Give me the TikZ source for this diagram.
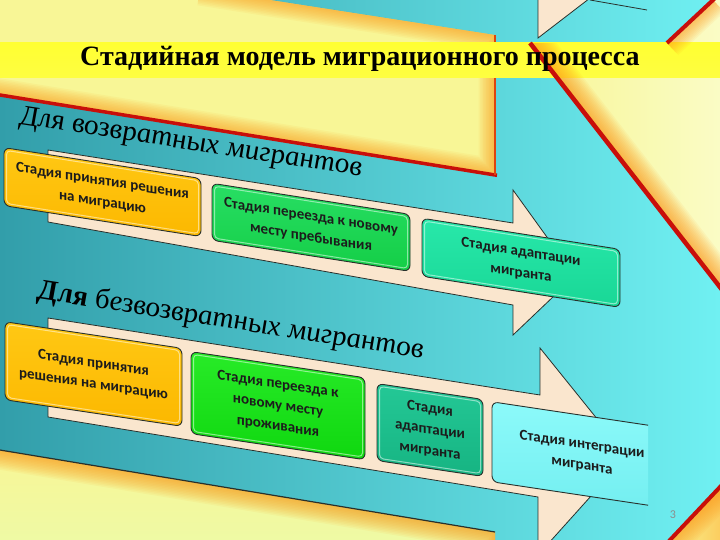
\documentclass[tikz,border=0pt]{standalone}
\usepackage{fontspec}
\setmainfont{Liberation Serif}
\newfontfamily\boxfont{Carlito}
\definecolor{tealL}{RGB}{50,158,170}
\definecolor{tealR}{RGB}{112,240,242}
\definecolor{paleY}{RGB}{248,246,150}
\definecolor{paleG}{RGB}{238,250,165}
\definecolor{paleW}{RGB}{250,252,200}
\definecolor{bandY}{RGB}{255,255,50}
\definecolor{glowO}{RGB}{255,150,20}
\definecolor{redL}{RGB}{200,15,10}
\definecolor{beigeA}{RGB}{250,230,206}
\definecolor{edgeD}{RGB}{40,48,44}
\definecolor{boxOt}{RGB}{255,200,20}
\definecolor{boxOb}{RGB}{252,184,0}
\definecolor{boxGat}{RGB}{40,222,100}
\definecolor{boxGab}{RGB}{20,206,70}
\definecolor{boxGbt}{RGB}{40,235,40}
\definecolor{boxGbb}{RGB}{15,215,15}
\definecolor{boxTat}{RGB}{40,232,170}
\definecolor{boxTab}{RGB}{25,215,150}
\definecolor{boxTbt}{RGB}{36,200,150}
\definecolor{boxTbb}{RGB}{22,180,130}
\definecolor{boxCt}{RGB}{140,250,250}
\definecolor{boxCb}{RGB}{115,238,240}
\definecolor{txtD}{RGB}{28,28,28}
\tikzset{
  stagebox/.style={draw=edgeD, line width=0.9pt, rounded corners=6pt},
  rimline/.style={draw=white, draw opacity=0.5, line width=1pt, rounded corners=4pt},
  stagetext/.style={font=\boxfont\bfseries\fontsize{15}{21}\selectfont, text=txtD, align=center, transform shape, inner sep=0pt},
  headtext/.style={font=\itshape\fontsize{29}{31}\selectfont, text=black, anchor=base west, transform shape, inner sep=0pt},
  arrowshape/.style={fill=beigeA, draw=edgeD, line width=0.8pt, line join=miter},
}
\newcommand\glowedge[3]{%
  \begin{scope}\clip #1;
  \foreach \w in {3,6,...,#3}{\draw[glowO, line width=\w pt, opacity=0.07, line join=round] #2;}
  \end{scope}}
\begin{document}
\begin{tikzpicture}[x=1pt,y=-1pt]
\useasboundingbox (0,0) rectangle (720,540);
\begin{scope}
\clip (0,0) rectangle (720,540);
% teal background
\shade[left color=tealL, right color=tealR] (0,0) rectangle (720,540);
% top-left panel
\fill[paleY] (0,0) -- (270,0) -- (495,35) -- (495,175) -- (0,95) -- cycle;
\glowedge{(0,0) -- (270,0) -- (495,35) -- (495,175) -- (0,95) -- cycle}{(-20,91.8) -- (495,175) -- (495,35) -- (270,0) -- (200,-11)}{33}
\draw[redL, line width=3.5pt] (-5,94.2) -- (497,175.3);
\draw[redL!60!glowO, line width=1.5pt] (495,35) -- (495,175);
% right panel
\shade[left color=paleY, right color=paleW] (713,0) -- (730,0) -- (730,300) -- (530,43) -- (667,43) -- cycle;
% bottom panel
\shade[top color=paleY, bottom color=paleG] (0,450) -- (495,532) -- (495,545) -- (0,545) -- cycle;
\glowedge{(0,450) -- (495,532) -- (495,545) -- (0,545) -- cycle}{(-20,446.7) -- (495,532) -- (495,550)}{39}
\draw[edgeD, line width=1.2pt] (-5,449.2) -- (495,532);
% bottom-right panel
\shade[left color=paleY, right color=glowO!50!paleY] (730,476.4) -- (730,545) -- (665.3,545) -- cycle;
\glowedge{(730,476.4) -- (730,545) -- (665.3,545) -- cycle}{(730,476.4) -- (665.3,545)}{39}
\draw[redL, line width=4pt] (730,476.4) -- (665.3,545);
% title band
\shade[top color=bandY, bottom color=bandY!85!paleY] (0,43) rectangle (720,78);
% right red lines
\glowedge{(713,0) -- (730,0) -- (730,300) -- (530,43) -- (667,43) -- cycle}{(730,300) -- (530,43)}{42}
\glowedge{(713,0) -- (730,0) -- (730,300) -- (667,43) -- cycle}{(667,43) -- (713,0)}{33}
\draw[redL, line width=4.5pt] (530,43) -- (730,300);
\draw[redL, line width=4pt] (667,43) -- (720,-6.5);
% top beige fragment
\draw[arrowshape] (538,-5) -- (538,38) -- (594,-5);
\draw[edgeD, line width=0.8pt] (590,0) -- (647,10);
% arrows
\draw[arrowshape] (48,150) -- (513,223) -- (513,190) -- (575,276) -- (513,335) -- (513,305) -- (48,222) -- cycle;
\draw[arrowshape] (48,318) -- (540,395) -- (540,348) -- (627,456) -- (538,555) -- (538,497) -- (48,417) -- cycle;
% upper row boxes
\begin{scope}[yslant=-0.157]
  \path[stagebox, top color=boxOt, bottom color=boxOb] (4,147) rectangle (201,205);
  \path[rimline] (6.5,149.5) rectangle (198.5,202.5);
  \node[stagetext] (u1) at (102.5,176) {Стадия принятия решения\\на миграцию};
  \path[stagebox, top color=boxGat, bottom color=boxGab] (212,150) rectangle (410,207);
  \path[rimline] (214.5,152.5) rectangle (407.5,204.5);
  \node[stagetext] (u2) at (311,178.5) {Стадия переезда к новому\\месту пребывания};
  \path[stagebox, top color=boxTat, bottom color=boxTab] (422,152) rectangle (620,210);
  \path[rimline] (424.5,154.5) rectangle (617.5,207.5);
  \node[stagetext] (u3) at (521,181) {Стадия адаптации\\мигранта};
\end{scope}
\begin{scope}[yslant=-0.152]
  \node[headtext] (h1) at (20,121) {Для возвратных мигрантов};
\end{scope}
% lower row boxes
\begin{scope}[yslant=-0.15]
  \path[stagebox, top color=boxOt, bottom color=boxOb] (5,321) rectangle (182,399);
  \path[rimline] (7.5,323.5) rectangle (179.5,396.5);
  \node[stagetext] (l1) at (93.5,360) {Стадия принятия\\решения на миграцию};
  \path[stagebox, top color=boxGbt, bottom color=boxGbb] (191,323) rectangle (365,405);
  \path[rimline] (193.5,325.5) rectangle (362.5,402.5);
  \node[stagetext] (l2) at (278,364) {Стадия переезда к\\новому месту\\проживания};
  \path[stagebox, top color=boxTbt, bottom color=boxTbb] (377,327) rectangle (483,404);
  \path[rimline] (379.5,329.5) rectangle (480.5,401.5);
  \node[stagetext] (l3) at (430,365.5) {Стадия\\адаптации\\мигранта};
  \begin{scope}
    \clip (480,300) rectangle (648,430);
    \path[stagebox, top color=boxCt, bottom color=boxCb] (492,328) rectangle (690,408);
  \end{scope}
  \node[stagetext] (l4) at (582,368) {Стадия интеграции\\мигранта};
\end{scope}
\begin{scope}[yslant=-0.154]
  \node[headtext] (h2) at (38,293) {\textbf{Для} безвозвратных мигрантов};
\end{scope}
% title
\node[font=\bfseries\fontsize{28}{30}\selectfont, anchor=base, inner sep=0pt] (title) at (360,66) {Стадийная модель миграционного процесса};
% page number
\node[font=\boxfont\fontsize{12}{14}\selectfont, text=black!45] (pg) at (673,515) {3};
\end{scope}
\end{tikzpicture}
\end{document}
